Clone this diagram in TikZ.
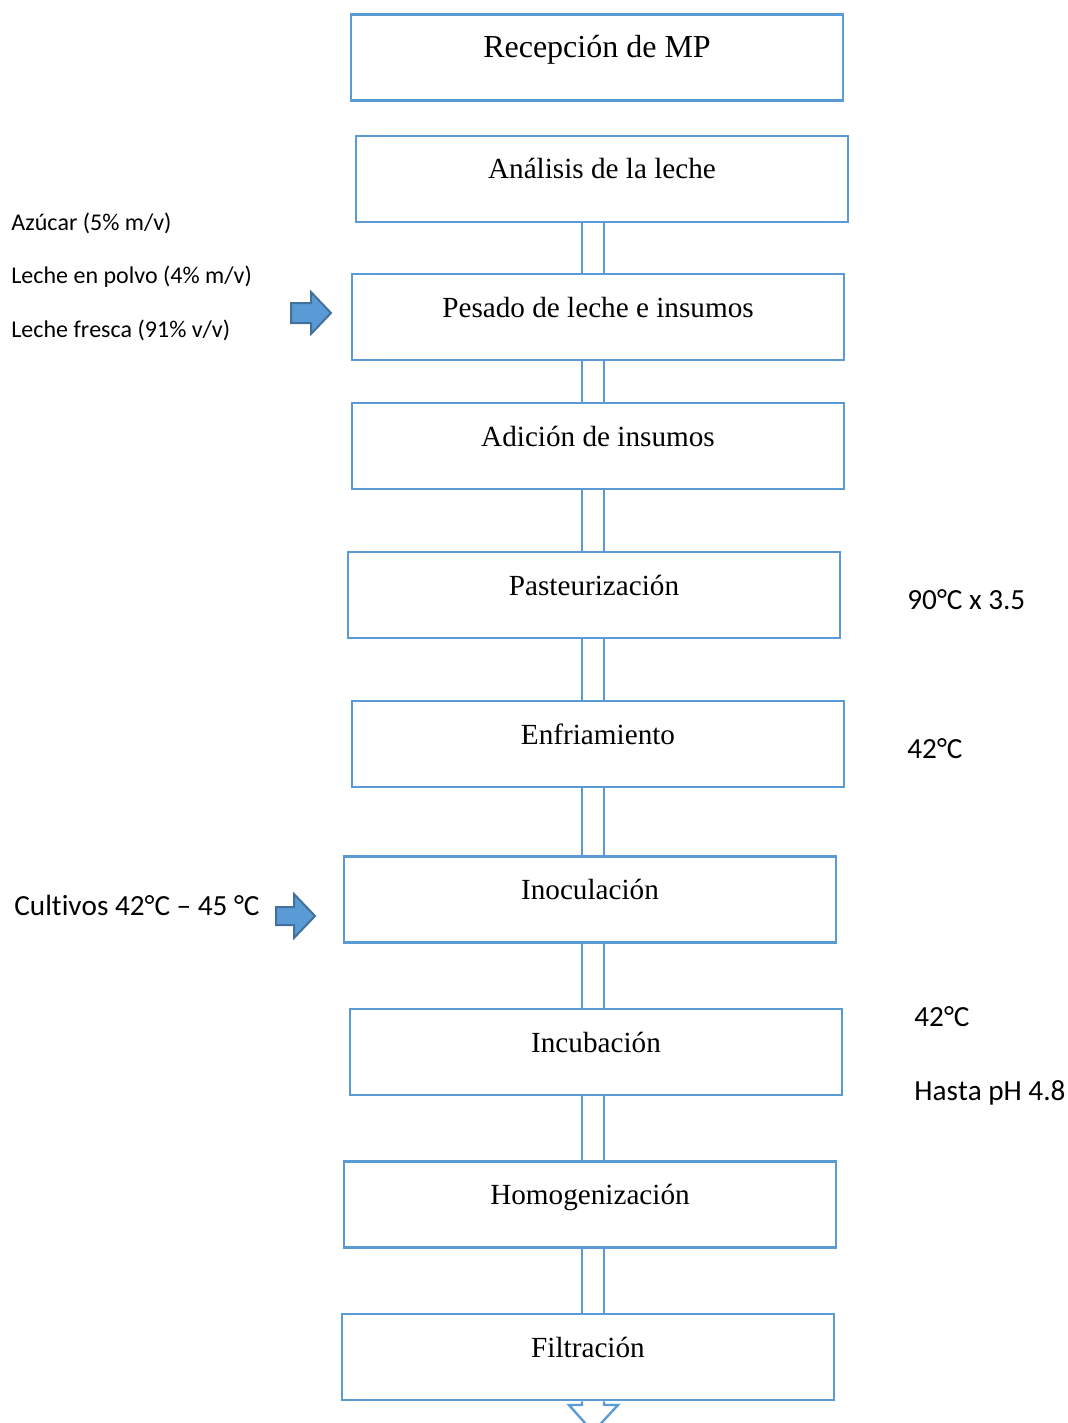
\documentclass[tikz,border=0pt]{standalone}
\usepackage{fontspec}
\setmainfont{Liberation Serif}
\newfontfamily\notefont{Carlito}[RawFeature={-liga;-kern}]
\definecolor{boxblue}{HTML}{5B9BD5}
\definecolor{arrowedge}{HTML}{41719C}

\begin{document}
\begin{tikzpicture}[x=0.5pt, y=-0.5pt,
    stage/.style={draw=boxblue, line width=1.3pt, minimum width=246pt, inner xsep=0pt, inner ysep=0pt,
        text height=21.5pt, text depth=21.5pt, font=\fontsize{14.6}{17}\selectfont},
    link/.style={boxblue, line width=1.2pt},
    note/.style={inner sep=0pt, anchor=base west, font=\notefont\fontsize{14.6}{17}\selectfont},
    smallnote/.style={note, font=\notefont\fontsize{12}{14}\selectfont},
    blockarrow/.style={fill=boxblue, draw=arrowedge, line width=1pt}]
                \useasboundingbox (0,0) rectangle (1067,1423);
                \node[stage, font=\fontsize{16}{19}\selectfont] (recepcion) at (597,57.5) {Recepción de MP};
                \node[stage] (analisis) at (602,179) {Análisis de la leche};
                \node[stage] (pesado) at (598,317) {Pesado de leche e insumos};
                \node[stage] (adicion) at (598,446) {Adición de insumos};
                \node[stage] (pasteurizacion) at (594,595) {Pasteurización};
                \node[stage] (enfriamiento) at (598,744) {Enfriamiento};
                \node[stage] (inoculacion) at (590,899.5) {Inoculación};
                \node[stage] (incubacion) at (596,1052) {Incubación};
                \node[stage] (homogenizacion) at (590,1204.5) {Homogenización};
                \node[stage] (filtracion) at (588,1357) {Filtración};
                % hollow arrows between the stages
                \foreach \a/\b in {analisis/pesado, pesado/adicion, adicion/pasteurizacion,
                    pasteurizacion/enfriamiento, enfriamiento/inoculacion, inoculacion/incubacion,
                    incubacion/homogenizacion, homogenizacion/filtracion} {
                    \draw[link] (582,0 |- \a.south) -- (582,0 |- \b.north);
                    \draw[link] (604,0 |- \a.south) -- (604,0 |- \b.north);
                }
                \draw[link] (582,0 |- filtracion.south) -- (582,1405) -- (569,1405) -- (593,1432)
                    -- (618,1405) -- (604,1405) -- (604,0 |- filtracion.south);
                % inputs
                \draw[blockarrow] (291,303) -- (311,303) -- (311,292) -- (331,313) -- (311,334) -- (311,323) -- (291,323) -- cycle;
                \draw[blockarrow] (276,907) -- (294,907) -- (294,894) -- (315,916) -- (294,938) -- (294,925) -- (276,925) -- cycle;
                \node[smallnote] (azucar) at (11,230.5) {Azúcar (5\% m/v)};
                \node[smallnote] (polvo) at (11,283) {Leche en polvo (4\% m/v)};
                \node[smallnote] (fresca) at (11,337) {Leche fresca (91\% v/v)};
                \node[note] (cultivos) at (14,915) {Cultivos 42°C – 45 °C};
                % conditions
                \node[note] (tpast) at (907,609) {90°C x 3.5};
                \node[note] (tenfr) at (907,758) {42°C};
                \node[note] (tincu) at (914,1026) {42°C};
                \node[note] (phfin) at (914,1100.5) {Hasta pH 4.8};
            \end{tikzpicture}
\end{document}
